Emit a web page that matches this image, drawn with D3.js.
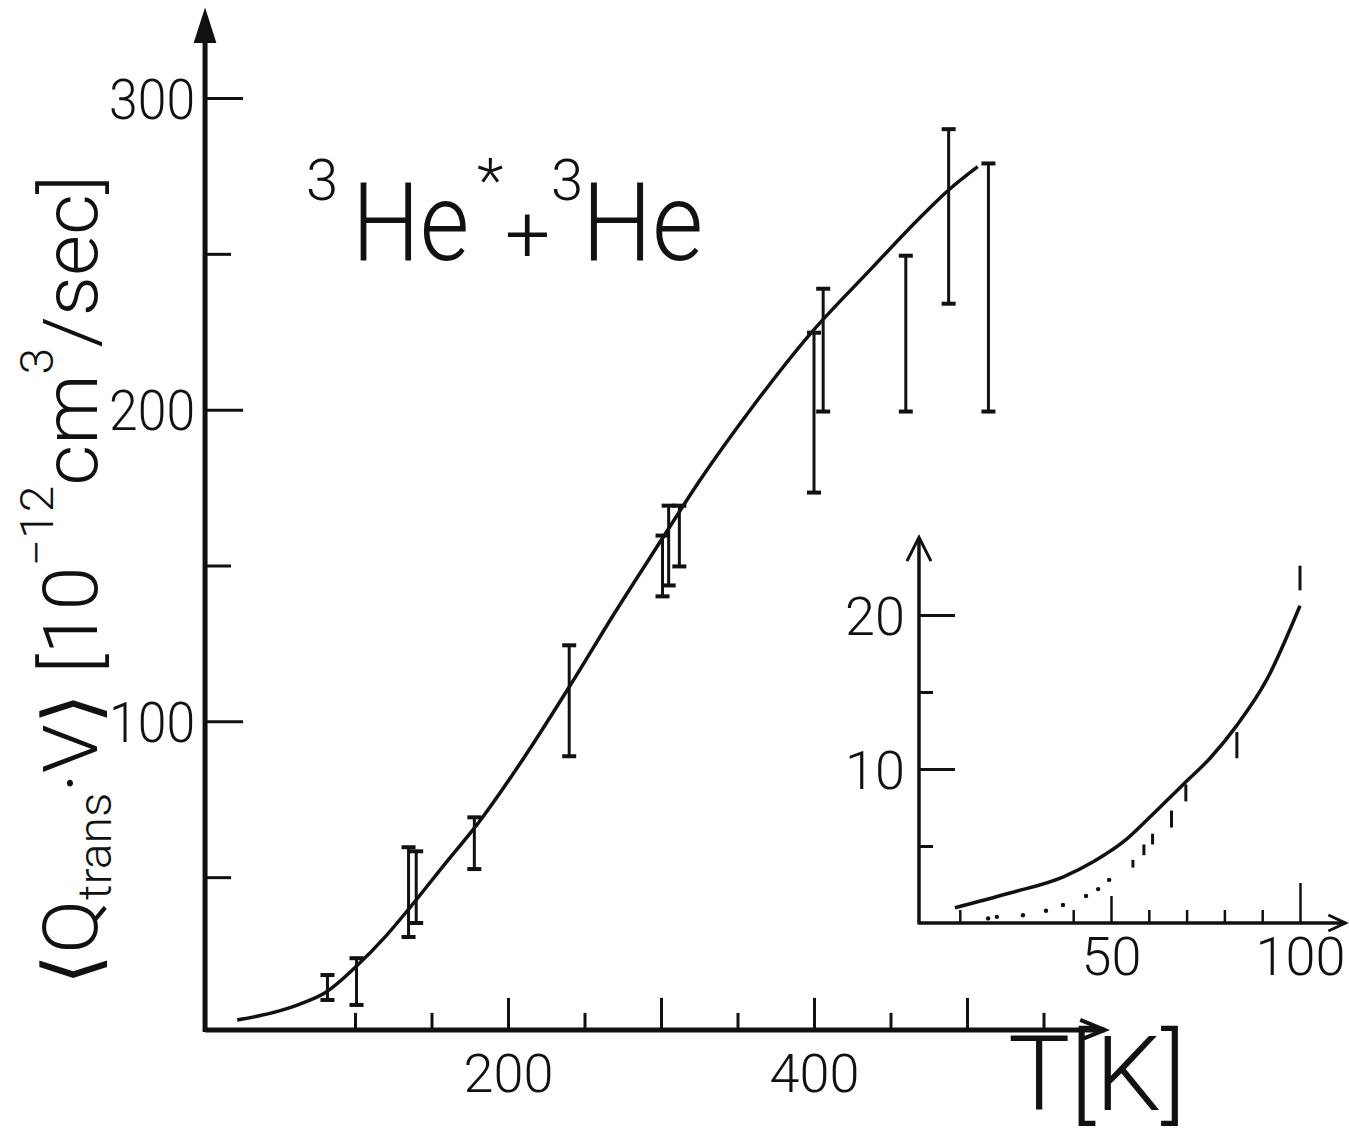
<!DOCTYPE html>
<meta charset="utf-8">
<style>
    body { margin: 0; background: #fff; }
    text { font-family: Roboto, "DejaVu Sans", sans-serif; font-weight: 300; fill: #111; }
</style>
<body>
<script src="https://d3js.org/d3.v7.min.js"></script>
<script>
// main plot: fitted curve
var curveT = [23, 50, 64, 81, 100, 120, 135, 160, 180, 210, 240, 270, 300, 325, 360, 397, 437, 470, 488, 507];
var curveV = [4.2, 7, 9.3, 13.1, 21, 31, 39.7, 55, 67, 88, 111, 135, 158, 177, 201, 224, 245, 262, 270.5, 278];
// main plot: measured points with error bars
var barT  = [82, 101, 135, 140, 178, 240, 301, 305, 312, 400, 406, 460, 488, 514];
var barLo = [10.6, 9, 30.8, 35.3, 52.6, 88.8, 140.1, 143.6, 149.7, 173.4, 199.4, 199.4, 234, 199.4];
var barHi = [18.6, 24, 59.6, 58.3, 69.2, 124.4, 159.6, 169.2, 169.2, 224.7, 238.8, 249.4, 290, 279];
// main axes
var xTicks = [100, 150, 200, 250, 300, 350, 400, 450, 500, 550];
var xLongTicks = [200, 300, 400, 500];
var xTickLabels = [200, 400];
var yTicks = [50, 100, 150, 200, 250, 300];
var yTickLabels = [100, 200, 300];

// inset (low temperature)
var insetCurveT = [8.7, 23, 37.4, 45.3, 53.3, 61.2, 69.1, 76.2, 83.2, 91.2, 100];
var insetCurveV = [0.99, 1.93, 3.0, 3.98, 5.28, 7.1, 9.0, 10.7, 12.8, 15.8, 20.6];
var insetBarT  = [55.8, 58.7, 61, 66, 69.8, 83.3, 100];
var insetBarLo = [3.6, 4.4, 5.1, 6.2, 7.9, 10.7, 21.6];
var insetBarHi = [4.1, 5.1, 5.8, 7.3, 9.0, 12.4, 23.2];
var insetDotT = [17.5, 19.8, 26.7, 32.8, 37.3, 43.4, 46.6, 49.5];
var insetDotV = [0.3, 0.4, 0.5, 0.8, 1.17, 1.75, 2.2, 2.8];
var insetXTicks = [10, 40, 50, 60, 70, 80, 90, 100];
var insetXTickLabels = [50, 100];
var insetYTicks = [5, 10, 15, 20];
var insetYTickLabels = [10, 20];

var width = 1349, height = 1143;
var ink = "#111";

var svg = d3.select("body").append("svg")
    .attr("width", width)
    .attr("height", height);

var x = d3.scaleLinear().domain([0, 500]).range([202, 967]);
var y = d3.scaleLinear().domain([0, 300]).range([1033, 98]);

// ---- main axes ----
var axisX0 = x(2), axisY0 = y(1);
svg.append("line")
    .attr("x1", axisX0).attr("x2", x(590))
    .attr("y1", axisY0).attr("y2", axisY0)
    .attr("stroke", ink).attr("stroke-width", 5);
svg.append("path")
    .attr("d", d3.line()([[x(574), axisY0 - 10], [x(590), axisY0], [x(574), axisY0 + 10]]))
    .attr("fill", "none").attr("stroke", ink).attr("stroke-width", 4);
svg.append("line")
    .attr("x1", axisX0).attr("x2", axisX0)
    .attr("y1", axisY0 + 2).attr("y2", y(320))
    .attr("stroke", ink).attr("stroke-width", 5);
svg.append("path")
    .attr("d", d3.line()([[axisX0 - 10, y(318)], [axisX0, y(328)], [axisX0 + 10, y(318)]]) + "Z")
    .attr("fill", ink).attr("stroke", ink).attr("stroke-width", 2);

var gx = svg.append("g")
    .attr("transform", "translate(0," + axisY0 + ")")
    .call(d3.axisBottom(x).tickValues(xTicks).tickSizeOuter(0)
        .tickFormat(function (d) { return xTickLabels.indexOf(d) >= 0 ? d : ""; }));
gx.select(".domain").remove();
gx.selectAll(".tick line")
    .attr("stroke", ink).attr("stroke-width", 3)
    .attr("y2", function (d) { return xLongTicks.indexOf(d) >= 0 ? -32 : -17; });
gx.selectAll(".tick text")
    .attr("y", 24).attr("dy", "0.71em")
    .style("font-size", "54px").style("fill", ink);

var gy = svg.append("g")
    .attr("transform", "translate(" + axisX0 + ",0)")
    .call(d3.axisRight(y).tickValues(yTicks).tickSizeOuter(0)
        .tickFormat(function (d) { return yTickLabels.indexOf(d) >= 0 ? d : ""; }));
gy.select(".domain").remove();
gy.selectAll(".tick line")
    .attr("stroke", ink).attr("stroke-width", 3)
    .attr("x2", function (d) { return yTickLabels.indexOf(d) >= 0 ? 38 : 26; });
gy.selectAll(".tick text")
    .attr("x", -10).attr("dy", "0.36em")
    .attr("text-anchor", "end")
    .attr("textLength", 86).attr("lengthAdjust", "spacingAndGlyphs")
    .style("font-size", "56px").style("fill", ink);

// ---- curve ----
var line = d3.line()
    .x(function (d) { return x(d[0]); })
    .y(function (d) { return y(d[1]); })
    .curve(d3.curveMonotoneX);

svg.append("path")
    .datum(d3.zip(curveT, curveV))
    .attr("d", line)
    .attr("fill", "none").attr("stroke", ink).attr("stroke-width", 3.5);

// ---- error bars ----
var bars = svg.append("g").selectAll("g")
    .data(d3.range(barT.length))
    .enter().append("g");
bars.append("line")
    .attr("x1", function (i) { return x(barT[i]); })
    .attr("x2", function (i) { return x(barT[i]); })
    .attr("y1", function (i) { return y(barLo[i]); })
    .attr("y2", function (i) { return y(barHi[i]); })
    .attr("stroke", ink).attr("stroke-width", 3);
bars.selectAll(".cap")
    .data(function (i) { return [[barT[i], barLo[i]], [barT[i], barHi[i]]]; })
    .enter().append("line")
    .attr("class", "cap")
    .attr("x1", function (d) { return x(d[0]) - 7; })
    .attr("x2", function (d) { return x(d[0]) + 7; })
    .attr("y1", function (d) { return y(d[1]); })
    .attr("y2", function (d) { return y(d[1]); })
    .attr("stroke", ink).attr("stroke-width", 4);

// ---- title ----
var title = svg.append("g");
title.append("text").attr("x", 306).attr("y", 200).style("font-size", "58px").text("3");
title.append("text").attr("transform", "translate(352,260) scale(0.87,1)")
    .style("font-size", "110px").text("He");
title.append("text").attr("x", 477).attr("y", 202).style("font-size", "62px").text("*");
title.append("text").attr("x", 505).attr("y", 262).style("font-size", "80px").text("+");
title.append("text").attr("x", 551).attr("y", 200).style("font-size", "58px").text("3");
title.append("text").attr("transform", "translate(582,260) scale(0.9,1)")
    .style("font-size", "110px").text("He");

// ---- axis titles ----
var ylab = svg.append("text")
    .attr("transform", "translate(97,580) rotate(-90)")
    .attr("text-anchor", "middle")
    .attr("textLength", 810).attr("lengthAdjust", "spacingAndGlyphs")
    .style("font-size", "76px");
ylab.append("tspan").text("\u27e8Q");
ylab.append("tspan").attr("dy", 14).style("font-size", "46px").text("trans");
ylab.append("tspan").attr("dy", -14).text("\u00b7V\u27e9 [10");
ylab.append("tspan").attr("dy", -44).style("font-size", "46px").text("\u221212");
ylab.append("tspan").attr("dy", 44).text("cm");
ylab.append("tspan").attr("dy", -44).style("font-size", "46px").text("3");
ylab.append("tspan").attr("dy", 44).text("/sec]");

svg.append("text")
    .attr("x", 1008).attr("y", 1110)
    .attr("textLength", 178).attr("lengthAdjust", "spacingAndGlyphs")
    .style("font-size", "104px")
    .text("T[K]");

// ---- inset ----
var ix = d3.scaleLinear().domain([0, 100]).range([922, 1300]);
var iy = d3.scaleLinear().domain([0, 20]).range([923, 615]);
var iX0 = ix(-0.8), iY0 = iy(0);

svg.append("line")
    .attr("x1", iX0).attr("x2", ix(112))
    .attr("y1", iY0).attr("y2", iY0)
    .attr("stroke", ink).attr("stroke-width", 3.5);
svg.append("path")
    .attr("d", d3.line()([[ix(107.5), iY0 - 8], [ix(112), iY0], [ix(107.5), iY0 + 8]]))
    .attr("fill", "none").attr("stroke", ink).attr("stroke-width", 3);
svg.append("line")
    .attr("x1", iX0).attr("x2", iX0)
    .attr("y1", iY0 + 1.5).attr("y2", iy(25))
    .attr("stroke", ink).attr("stroke-width", 3.5);
svg.append("path")
    .attr("d", d3.line()([[iX0 - 12, iy(23.5)], [iX0, iy(25.05)], [iX0 + 12, iy(23.5)]]))
    .attr("fill", "none").attr("stroke", ink).attr("stroke-width", 3);

var igx = svg.append("g")
    .attr("transform", "translate(0," + iY0 + ")")
    .call(d3.axisBottom(ix).tickValues(insetXTicks).tickSizeOuter(0)
        .tickFormat(function (d) { return insetXTickLabels.indexOf(d) >= 0 ? d : ""; }));
igx.select(".domain").remove();
igx.selectAll(".tick line")
    .attr("stroke", ink).attr("stroke-width", 2.5)
    .attr("y2", function (d) { return d === 100 ? -40 : d === 50 ? -27 : -13; });
igx.selectAll(".tick text")
    .attr("y", 14).attr("dy", "0.71em")
    .style("font-size", "54px").style("fill", ink);

var igy = svg.append("g")
    .attr("transform", "translate(" + iX0 + ",0)")
    .call(d3.axisRight(iy).tickValues(insetYTicks).tickSizeOuter(0)
        .tickFormat(function (d) { return insetYTickLabels.indexOf(d) >= 0 ? d : ""; }));
igy.select(".domain").remove();
igy.selectAll(".tick line")
    .attr("stroke", ink).attr("stroke-width", 3)
    .attr("x2", function (d) { return insetYTickLabels.indexOf(d) >= 0 ? 36 : 14; });
igy.selectAll(".tick text")
    .attr("x", -14).attr("dy", "0.36em")
    .attr("text-anchor", "end")
    .style("font-size", "54px").style("fill", ink);

var iline = d3.line()
    .x(function (d) { return ix(d[0]); })
    .y(function (d) { return iy(d[1]); })
    .curve(d3.curveMonotoneX);
svg.append("path")
    .datum(d3.zip(insetCurveT, insetCurveV))
    .attr("d", iline)
    .attr("fill", "none").attr("stroke", ink).attr("stroke-width", 3.5);

svg.append("g").selectAll("line")
    .data(d3.range(insetBarT.length))
    .enter().append("line")
    .attr("x1", function (i) { return ix(insetBarT[i]); })
    .attr("x2", function (i) { return ix(insetBarT[i]); })
    .attr("y1", function (i) { return iy(insetBarLo[i]); })
    .attr("y2", function (i) { return iy(insetBarHi[i]); })
    .attr("stroke", ink).attr("stroke-width", 3);

svg.append("g").selectAll("circle")
    .data(d3.zip(insetDotT, insetDotV))
    .enter().append("circle")
    .attr("cx", function (d) { return ix(d[0]); })
    .attr("cy", function (d) { return iy(d[1]); })
    .attr("r", 2.2)
    .attr("fill", ink);
</script>
</body>
